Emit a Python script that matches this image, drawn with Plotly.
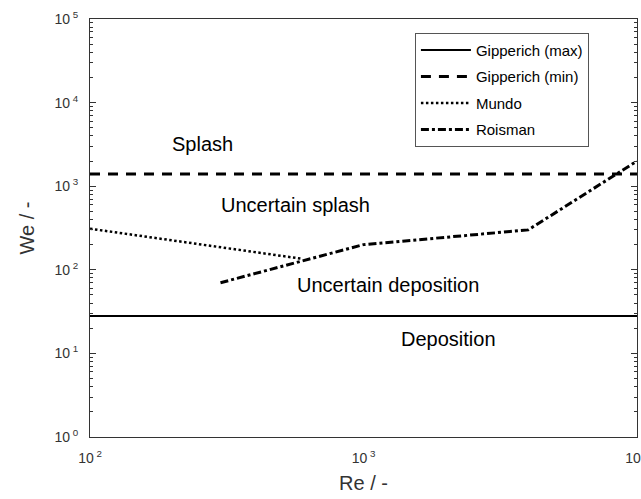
import plotly.graph_objects as go

# Splash / deposition regime boundaries in the Re-We plane
re_span = [100, 10000]
gipperich_max_we = [28, 28]
gipperich_min_we = [1400, 1400]

mundo_re = [100, 600]
mundo_we = [310, 135]

roisman_re = [300, 1000, 4000, 10000]
roisman_we = [70, 200, 300, 2000]

x_tick_vals = [100, 1000, 10000]
x_tick_text = ["10<sup> 2</sup>", "10<sup> 3</sup>", "10<sup> 4</sup>"]
y_tick_vals = [1, 10, 100, 1000, 10000, 100000]
y_tick_text = ["10<sup> 0</sup>", "10<sup> 1</sup>", "10<sup> 2</sup>",
               "10<sup> 3</sup>", "10<sup> 4</sup>", "10<sup> 5</sup>"]

# Region labels: (text, log10 Re, log10 We)
region_labels = [
    ("Splash", 2.41, 3.50),
    ("Uncertain splash", 2.75, 2.78),
    ("Uncertain deposition", 3.09, 1.82),
    ("Deposition", 3.31, 1.17),
]

FONT = "Liberation Sans, Arial, sans-serif"

fig = go.Figure()
fig.add_trace(go.Scatter(x=re_span, y=gipperich_max_we, mode="lines",
                         name="Gipperich (max)", legendgroup="a",
                         line=dict(color="black", width=2)))
fig.add_trace(go.Scatter(x=re_span, y=gipperich_min_we, mode="lines",
                         name="Gipperich (min)", legendgroup="b",
                         line=dict(color="black", width=3, dash="10px,8px")))
fig.add_trace(go.Scatter(x=mundo_re, y=mundo_we, mode="lines",
                         name="Mundo", legendgroup="c",
                         line=dict(color="black", width=2.5, dash="2.5px,2.5px")))
fig.add_trace(go.Scatter(x=roisman_re, y=roisman_we, mode="lines",
                         name="Roisman", legendgroup="d",
                         line=dict(color="black", width=3, dash="8px,3px,3px,3px")))

for text, lx, ly in region_labels:
    fig.add_annotation(x=lx, y=ly, xref="x", yref="y", text=text,
                       showarrow=False, font=dict(family=FONT, size=20, color="black"))

fig.update_layout(
    width=641, height=499,
    margin=dict(l=90, r=4, t=19, b=62),
    paper_bgcolor="white", plot_bgcolor="white",
    font=dict(family=FONT, color="#333"),
    showlegend=True,
    legend=dict(x=0.594, y=0.967, xanchor="left", yanchor="top",
                bordercolor="#555", borderwidth=1, bgcolor="white",
                font=dict(family=FONT, size=15, color="black"),
                itemwidth=50, tracegroupgap=4, entrywidth=150,
                traceorder="grouped"),
)
fig.update_xaxes(type="log", range=[2, 4], showgrid=False, zeroline=False,
                 automargin=False,
                 showline=True, linecolor="#333", linewidth=1, mirror=True,
                 ticks="", tickvals=x_tick_vals, ticktext=x_tick_text,
                 tickfont=dict(size=14, color="#333"),
                 ticklabelstandoff=8, ticklabeloverflow="allow",
                 title=dict(text="Re / -", font=dict(size=20, color="#333"), standoff=11))
fig.update_yaxes(type="log", range=[0, 5], showgrid=False, zeroline=False,
                 automargin=False,
                 showline=True, linecolor="#333", linewidth=1, mirror="allticks",
                 ticks="inside", ticklen=6, tickcolor="#333",
                 tickvals=y_tick_vals, ticktext=y_tick_text,
                 tickfont=dict(size=14, color="#333"),
                 ticklabelstandoff=8,
                 minor=dict(ticks="inside", ticklen=3, tickcolor="#333", dtick="D1"),
                 title=dict(text="We / -", font=dict(size=20, color="#333"), standoff=14))

fig.write_html("out.html")
